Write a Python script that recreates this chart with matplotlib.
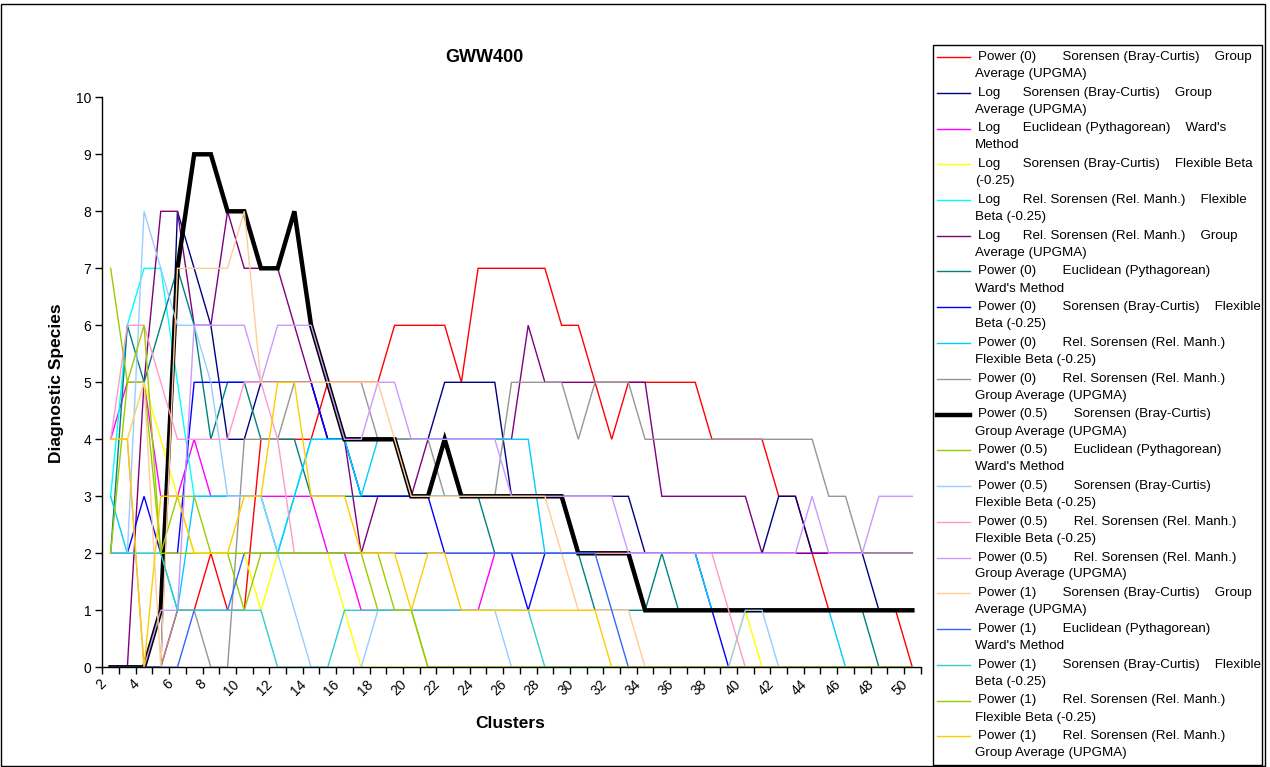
import matplotlib
matplotlib.use("Agg")
import matplotlib.pyplot as plt
import matplotlib.transforms as mtransforms
from matplotlib.lines import Line2D
import numpy as np

clusters = list(range(2, 51))

power0_sor_ga = [0,0,0,0,1,1,2,1,1,4, 4,4,4,5,5,5,5,6,6,6, 6,5,7,7,7,7,7,6,6,5, 4,5,5,5,5,5,4,4,4,4, 3,3,2,1,1,1,1,1,0]
log_sor_ga = [0,0,0,0,8,7,6,4,4,5, 5,5,5,4,4,4,4,4,4,4, 5,5,5,5,3,3,3,3,3,3, 3,3,2,2,2,2,2,2,2,2, 3,3,2,2,2,2,1,1,1]
log_euc_ward = [4,5,5,3,3,4,3,3,3,3, 3,3,3,2,2,1,1,1,1,1, 1,1,1,2,2,2,2,2,2,2, 2,2,2,2,2,2,2,2,2,2, 2,2,2,2,2,2,2,2,2]
log_sor_fb = [4,4,5,4,3,2,2,2,2,1, 2,2,2,2,1,0,0,0,0,0, 0,0,0,0,0,0,0,0,0,0, 0,0,0,0,0,0,0,0,1,0, 0,0,0,0,0,0,0,0,0]
log_rel_fb = [3,6,7,7,5,3,3,3,3,3, 2,3,4,4,4,3,3,3,3,3, 3,3,3,3,3,3,3,3,2,2, 2,2,1,1,1,1,1,1,1,1, 1,1,1,1,1,1,1,1,1]
log_rel_ga = [0,0,5,8,8,6,6,8,7,7, 7,6,5,4,4,2,3,3,3,4, 4,4,4,4,4,6,5,5,5,5, 5,5,5,3,3,3,3,3,3,2, 2,2,2,2,2,2,2,2,2]
power0_euc_ward = [2,6,5,6,7,6,4,5,5,4, 4,4,3,3,3,3,3,3,3,3, 3,3,3,2,2,2,2,2,2,1, 1,1,1,2,1,1,1,1,1,1, 1,1,1,1,1,1,0,0,0]
power0_sor_fb = [2,2,3,2,2,5,5,5,5,5, 5,5,5,4,4,3,3,3,3,3, 2,2,2,2,2,1,2,2,2,2, 2,2,2,2,2,2,1,0,0,0, 0,0,0,0,0,0,0,0,0]
power0_rel_fb = [3,2,2,2,1,3,3,3,3,3, 2,3,4,4,4,3,4,4,4,4, 4,4,4,4,4,4,2,2,2,2, 2,2,2,2,2,2,1,1,1,1, 1,1,1,1,0,0,0,0,0]
power0_rel_ga = [0,0,0,0,1,1,0,0,4,4, 4,5,5,5,5,5,4,4,4,4, 3,3,3,3,5,5,5,5,4,5, 5,5,4,4,4,4,4,4,4,4, 4,4,4,3,3,2,2,2,2]
power05_sor_ga = [0,0,0,1,7,9,9,8,8,7, 7,8,6,5,4,4,4,4,3,3, 4,3,3,3,3,3,3,3,2,2, 2,2,1,1,1,1,1,1,1,1, 1,1,1,1,1,1,1,1,1]
power05_euc_ward = [7,5,5,2,3,3,2,2,1,2, 2,2,2,2,2,2,1,1,1,0, 0,0,0,0,0,0,0,0,0,0, 0,0,0,0,0,0,0,0,0,0, 0,0,0,0,0,0,0,0,0]
power05_sor_fb = [2,2,8,7,6,6,5,3,3,3, 2,1,0,0,0,0,1,1,1,1, 1,1,1,1,0,0,0,0,0,0, 0,0,0,0,0,0,0,0,1,1, 0,0,0,0,0,0,0,0,0]
power05_rel_fb = [4,6,6,5,4,4,4,4,5,5, 4,2,2,2,2,2,2,2,2,2, 2,2,2,2,2,2,2,2,2,2, 2,2,2,2,2,2,2,1,0,0, 0,0,0,0,0,0,0,0,0]
power05_rel_ga = [4,4,0,1,1,6,6,6,6,5, 6,6,6,5,4,4,5,5,4,4, 4,4,4,4,3,3,3,3,3,3, 3,2,2,2,2,2,2,2,2,2, 2,2,3,2,2,2,3,3,3]
power1_sor_ga = [4,4,5,0,7,7,7,7,8,5, 5,5,5,5,5,5,5,4,3,3, 3,3,3,3,3,3,3,2,1,1, 1,1,0,0,0,0,0,0,0,0, 0,0,0,0,0,0,0,0,0]
power1_euc_ward = [0,0,0,0,0,1,1,1,2,2, 2,2,2,2,2,2,2,2,2,2, 2,2,2,2,2,2,2,2,2,2, 1,0,0,0,0,0,0,0,0,0, 0,0,0,0,0,0,0,0,0]
power1_sor_fb = [2,2,2,2,1,1,1,1,1,1, 0,0,0,0,1,1,1,1,1,1, 1,1,1,1,1,1,0,0,0,0, 0,0,0,0,0,0,0,0,0,0, 0,0,0,0,0,0,0,0,0]
power1_rel_fb = [2,5,6,2,2,2,2,2,2,2, 2,2,2,2,2,2,2,1,1,0, 0,0,0,0,0,0,0,0,0,0, 0,0,0,0,0,0,0,0,0,0, 0,0,0,0,0,0,0,0,0]
power1_rel_ga = [4,4,0,3,3,2,2,2,3,3, 5,5,3,3,3,2,2,2,1,2, 2,1,1,1,1,1,1,1,1,1, 0,0,0,0,0,0,0,0,0,0, 0,0,0,0,0,0,0,0,0]

# (legend lines, values, colour, line width)
series = [
    (["Power (0)       Sorensen (Bray-Curtis)    Group", "Average (UPGMA)"], power0_sor_ga, "#FF0000", 1.0),
    (["Log      Sorensen (Bray-Curtis)    Group", "Average (UPGMA)"], log_sor_ga, "#000080", 1.0),
    (["Log      Euclidean (Pythagorean)    Ward's", "Method"], log_euc_ward, "#FF00FF", 1.0),
    (["Log      Sorensen (Bray-Curtis)    Flexible Beta", "(-0.25)"], log_sor_fb, "#FFFF00", 1.0),
    (["Log      Rel. Sorensen (Rel. Manh.)    Flexible", "Beta (-0.25)"], log_rel_fb, "#00FFFF", 1.0),
    (["Log      Rel. Sorensen (Rel. Manh.)    Group", "Average (UPGMA)"], log_rel_ga, "#800080", 1.0),
    (["Power (0)       Euclidean (Pythagorean)", "Ward's Method"], power0_euc_ward, "#008080", 1.0),
    (["Power (0)       Sorensen (Bray-Curtis)    Flexible", "Beta (-0.25)"], power0_sor_fb, "#0000FF", 1.0),
    (["Power (0)       Rel. Sorensen (Rel. Manh.)", "Flexible Beta (-0.25)"], power0_rel_fb, "#00CCFF", 1.0),
    (["Power (0)       Rel. Sorensen (Rel. Manh.)", "Group Average (UPGMA)"], power0_rel_ga, "#969696", 1.0),
    (["Power (0.5)       Sorensen (Bray-Curtis)", "Group Average (UPGMA)"], power05_sor_ga, "#000000", 3.2),
    (["Power (0.5)       Euclidean (Pythagorean)", "Ward's Method"], power05_euc_ward, "#99CC00", 1.0),
    (["Power (0.5)       Sorensen (Bray-Curtis)", "Flexible Beta (-0.25)"], power05_sor_fb, "#99CCFF", 1.0),
    (["Power (0.5)       Rel. Sorensen (Rel. Manh.)", "Flexible Beta (-0.25)"], power05_rel_fb, "#FF99CC", 1.0),
    (["Power (0.5)       Rel. Sorensen (Rel. Manh.)", "Group Average (UPGMA)"], power05_rel_ga, "#CC99FF", 1.0),
    (["Power (1)       Sorensen (Bray-Curtis)    Group", "Average (UPGMA)"], power1_sor_ga, "#FFCC99", 1.0),
    (["Power (1)       Euclidean (Pythagorean)", "Ward's Method"], power1_euc_ward, "#3366FF", 1.0),
    (["Power (1)       Sorensen (Bray-Curtis)    Flexible", "Beta (-0.25)"], power1_sor_fb, "#33CCCC", 1.0),
    (["Power (1)       Rel. Sorensen (Rel. Manh.)", "Flexible Beta (-0.25)"], power1_rel_fb, "#99CC00", 1.0),
    (["Power (1)       Rel. Sorensen (Rel. Manh.)", "Group Average (UPGMA)"], power1_rel_ga, "#FFCC00", 1.0),
]

plt.rcParams['font.family'] = ['Liberation Sans', 'DejaVu Sans']
W, H = 1270, 767
fig = plt.figure(figsize=(W / 100, H / 100), dpi=100)


def fx(px):
    return px / W


def fy(py):
    return 1 - py / H


# outer chart border
fig.add_artist(plt.Rectangle((fx(1), fy(766)), fx(1265) - fx(1), fy(4) - fy(766),
                             transform=fig.transFigure, fill=False,
                             edgecolor="black", linewidth=1.0))

ax = fig.add_axes([fx(102.3), fy(667.3), fx(920.7) - fx(102.3), fy(97.3) - fy(667.3)])

for lines, vals, color, lw in series:
    ax.plot(clusters, vals, color=color, linewidth=lw, solid_joinstyle="miter")

ax.set_xlim(1.5, 50.5)
ax.set_ylim(0, 10)
ax.set_yticks(range(0, 11))
ax.set_xticks(range(2, 51, 2))
ax.set_xticks(np.arange(1.5, 51, 1.0), minor=True)
ax.tick_params(axis="x", which="major", length=0, labelsize=10, pad=7)
ax.tick_params(axis="x", which="minor", length=5, direction="out", width=1)
ax.tick_params(axis="y", which="major", length=5, direction="out", labelsize=10, width=1, pad=3)
shift = mtransforms.ScaledTranslation(-12 / 100, 0, fig.dpi_scale_trans)
for lbl in ax.get_xticklabels():
    lbl.set_rotation(45)
    lbl.set_ha("right")
    lbl.set_va("top")
    lbl.set_rotation_mode("anchor")
    lbl.set_transform(lbl.get_transform() + shift)
for side in ("top", "right"):
    ax.spines[side].set_visible(False)
for side in ("left", "bottom"):
    ax.spines[side].set_linewidth(1.0)

fig.text(fx(484), fy(58), "GWW400", ha="center", va="center", fontsize=13, fontweight="bold")
fig.text(fx(510), fy(724), "Clusters", ha="center", va="center", fontsize=12.5, fontweight="bold")
fig.text(fx(57), fy(383), "Diagnostic Species", ha="center", va="center", rotation=90,
         fontsize=12.5, fontweight="bold")

# legend drawn entry by entry: handle beside the first text line, second line below
fig.add_artist(plt.Rectangle((fx(933), fy(765)), fx(1262) - fx(933), fy(45) - fy(765),
                             transform=fig.transFigure, fill=False,
                             edgecolor="black", linewidth=1.0))
for i, (lines, vals, color, lw) in enumerate(series):
    y0 = 57 + 35.75 * i
    fig.add_artist(Line2D([fx(937), fx(970)], [fy(y0), fy(y0)], transform=fig.transFigure,
                          color=color, linewidth=lw))
    fig.text(fx(978), fy(y0), lines[0], ha="left", va="center", fontsize=9.6)
    fig.text(fx(975), fy(y0 + 17), lines[1], ha="left", va="center", fontsize=9.6)

fig.savefig("out.png", dpi=100)
